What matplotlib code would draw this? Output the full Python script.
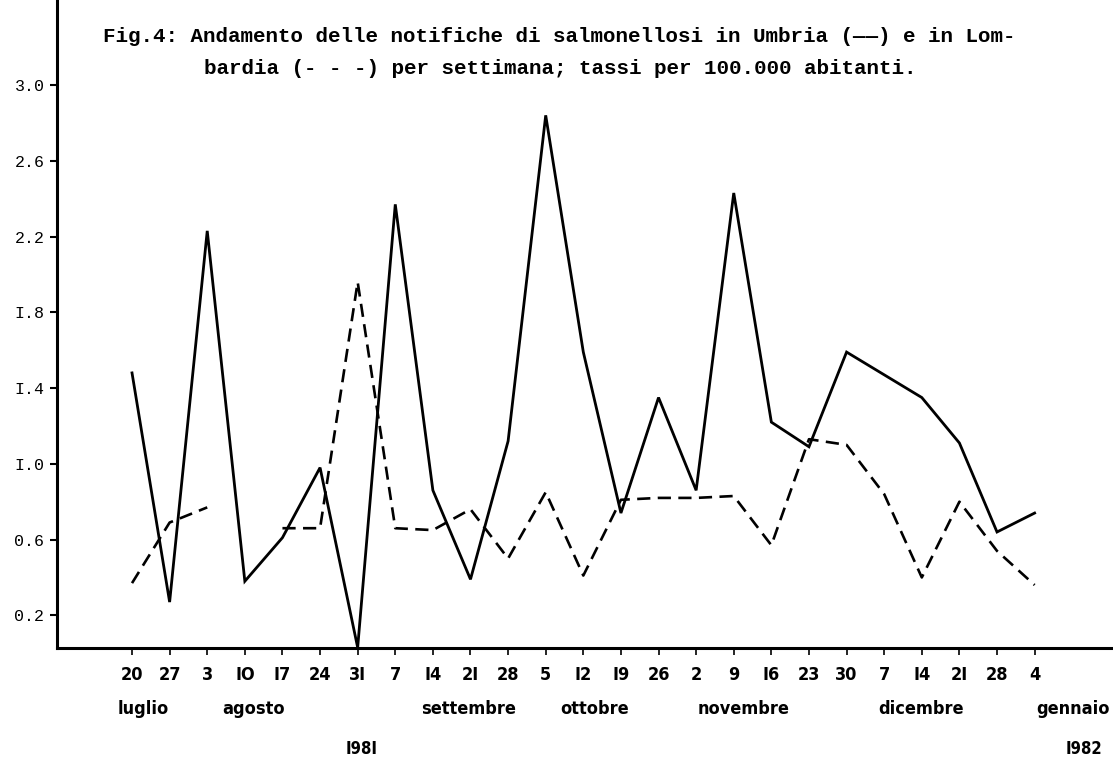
import numpy as np
import matplotlib
matplotlib.use("Agg")
import matplotlib.pyplot as plt
import matplotlib.transforms as mtransforms

# week labels (typewriter style, "I" used for 1)
weeks = ['20', '27', '3', 'IO', 'I7', '24', '3I', '7', 'I4', '2I', '28', '5', 'I2',
         'I9', '26', '2', '9', 'I6', '23', '30', '7', 'I4', '2I', '28', '4']

umbria = [1.48, 0.27, 2.23, 0.38, 0.61, 0.98, 0.03, 2.37, 0.86, 0.39, 1.12, 2.84, 1.59,
          0.74, 1.35, 0.86, 2.43, 1.22, 1.09, 1.59, 1.47, 1.35, 1.11, 0.64, 0.74]

lombardia = [0.37, 0.69, 0.77, np.nan, 0.66, 0.66, 1.96, 0.66, 0.65, 0.76, 0.50, 0.85, 0.41,
             0.81, 0.82, 0.82, 0.83, 0.57, 1.13, 1.10, 0.84, 0.40, 0.80, 0.54, 0.36]

yticks = [0.2, 0.6, 1.0, 1.4, 1.8, 2.2, 2.6, 3.0]
ylabels = ['0.2', '0.6', 'I.0', 'I.4', 'I.8', '2.2', '2.6', '3.0']

months = ['luglio', 'agosto', 'settembre', 'ottobre', 'novembre', 'dicembre', 'gennaio']
month_pos = [0.3, 3.22, 8.95, 12.3, 16.25, 20.98, 25.02]
years = ['I98I', 'I982']
year_pos = [6.1, 25.3]

x = np.arange(len(weeks))

fig = plt.figure(figsize=(11.13, 7.6), dpi=100)
ax = fig.add_axes([0.0512, 0.147, 0.949, 0.853])

ax.plot(x, umbria, color='black', lw=2.0, solid_joinstyle='miter')
ax.plot(x, lombardia, color='black', lw=1.9, dashes=(5, 2.8))

ax.set_xlim(-1.995, 26.09)
ax.set_ylim(0.026, 3.449)

for s in ['top', 'right']:
    ax.spines[s].set_visible(False)
ax.spines['left'].set_linewidth(2.2)
ax.spines['bottom'].set_linewidth(2.2)

mono = ['Liberation Mono', 'DejaVu Sans Mono']
narrow = ['DejaVu Sans']

ax.set_yticks(yticks)
ax.set_yticklabels(ylabels, family=mono, fontsize=12)
ax.set_xticks(x)
ax.set_xticklabels(weeks, family=narrow, fontsize=13, fontstretch='condensed',
                   fontweight='bold')
ax.tick_params(axis='y', direction='out', length=5, width=1.5, pad=4)
ax.tick_params(axis='x', direction='out', length=5, width=1.2, pad=8)

trans = mtransforms.blended_transform_factory(ax.transData, ax.transAxes)
for m, p in zip(months, month_pos):
    ax.text(p, -0.093, m, transform=trans, ha='center', va='center',
            family=narrow, fontsize=13, fontstretch='condensed', fontweight='bold',
            clip_on=False)
for yr, p in zip(years, year_pos):
    ax.text(p, -0.155, yr, transform=trans, ha='center', va='center',
            family=narrow, fontsize=12, fontstretch='condensed', fontweight='bold',
            clip_on=False)

fig.text(103 / 1113, 1 - 37 / 760,
         'Fig.4: Andamento delle notifiche di salmonellosi in Umbria (\u2014\u2014) e in Lom-',
         family=mono, fontsize=15, fontweight='bold', ha='left', va='center')
fig.text(204 / 1113, 1 - 69 / 760,
         'bardia (- - -) per settimana; tassi per 100.000 abitanti.',
         family=mono, fontsize=15, fontweight='bold', ha='left', va='center')

fig.savefig('out.png', dpi=100)
